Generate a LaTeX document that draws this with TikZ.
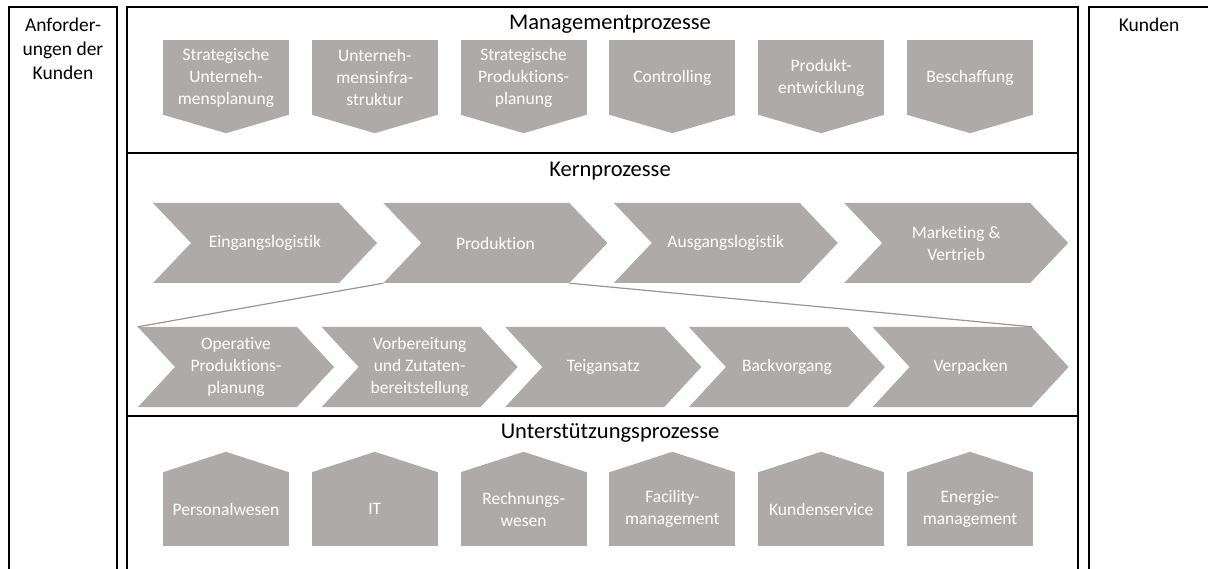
\documentclass[tikz,border=0pt]{standalone}
\usepackage{fontspec}
\setmainfont{Carlito}[Ligatures=NoCommon]
\usetikzlibrary{positioning,calc}
\definecolor{boxgray}{RGB}{174,170,170}
\definecolor{linegray}{RGB}{150,150,150}
\tikzset{
  frameline/.style={draw=black, line width=1.6pt},
  headtext/.style={anchor=base, inner sep=0pt, font=\fontsize{22.5}{27}\selectfont},
  sidetext/.style={inner sep=0pt, align=center, font=\fontsize{19.5}{24}\selectfont},
  mbox/.style={rectangle, fill=boxgray, text=white, minimum width=126pt,
               minimum height=75pt, inner sep=0pt, align=center,
               font=\fontsize{17.5}{22}\selectfont},
  sbox/.style={mbox, minimum height=74pt},
  chev/.style={rectangle, text=white, inner sep=0pt, align=center,
               minimum height=80pt, font=\fontsize{17.5}{22}\selectfont,
               path picture={\fill[boxgray] (path picture bounding box.north west)
                 -- ([xshift=-#1]path picture bounding box.north east)
                 -- (path picture bounding box.east)
                 -- ([xshift=-#1]path picture bounding box.south east)
                 -- (path picture bounding box.south west)
                 -- ([xshift=#1]path picture bounding box.west) -- cycle;}},
  kchev/.style={chev=38pt, minimum width=224pt},
  pchev/.style={chev=37pt, minimum width=196pt},
  zoomline/.style={draw=linegray, line width=1.2pt}
}
\begin{document}
\begin{tikzpicture}[x=1pt, y=-1pt]
  \useasboundingbox (0,0) rectangle (1208,569);

  % frames
  \draw[frameline] (9,580) |- (117,7) -- (117,580);
  \draw[frameline] (127,580) |- (1078,7) -- (1078,580);
  \draw[frameline] (1089,580) |- (1220,7);
  \draw[frameline] (127,153) -- (1078,153);
  \draw[frameline] (127,416) -- (1078,416);

  \node[sidetext, anchor=north] (anf) at (63,18) {Anforder-\\ungen der\\Kunden};
  \node[sidetext, anchor=base] (kund) at (1149,32) {Kunden};

  % Managementprozesse
  \node[headtext] (mhead) at (610,29.5) {Managementprozesse};
  \node[mbox] (strup) at (226,77.5) {Strategische\\Unterneh-\\mensplanung};
  \node[mbox, right=22.4pt of strup] (uinfra) {Unterneh-\\mensinfra-\\struktur};
  \node[mbox, right=22.4pt of uinfra] (strpp) {Strategische\\Produktions-\\planung};
  \node[mbox, right=22.4pt of strpp] (contr) {Controlling};
  \node[mbox, right=22.4pt of contr] (prodev) {Produkt-\\entwicklung};
  \node[mbox, right=22.4pt of prodev] (besch) {Beschaffung};
  \foreach \n in {strup,uinfra,strpp,contr,prodev,besch}
    \fill[boxgray] ([yshift=0.5pt]\n.south west) -- ([yshift=-18pt]\n.south)
      -- ([yshift=0.5pt]\n.south east) -- cycle;

  % Kernprozesse
  \node[headtext] (khead) at (610,177) {Kernprozesse};
  \node[kchev] (einl) at (265,243) {Eingangslogistik};
  \node[kchev, right=6pt of einl] (prod) {Produktion};
  \node[kchev, right=6pt of prod] (ausl) {Ausgangslogistik};
  \node[kchev, right=6pt of ausl] (mvert) {Marketing \&\\Vertrieb};

  \node[pchev] (oppl) at (236,367) {Operative\\Produktions-\\planung};
  \node[pchev, right=-12.75pt of oppl] (vorb) {Vorbereitung\\und Zutaten-\\bereitstellung};
  \node[pchev, right=-12.75pt of vorb] (teig) {Teigansatz};
  \node[pchev, right=-12.75pt of teig] (back) {Backvorgang};
  \node[pchev, right=-12.75pt of back] (verp) {Verpacken};

  \draw[zoomline] (prod.south west) -- (oppl.north west);
  \draw[zoomline] ([xshift=-38pt]prod.south east) -- ([xshift=-37pt]verp.north east);

  % Unterstuetzungsprozesse
  \node[headtext] (uhead) at (610,438) {Unterstützungsprozesse};
  \node[sbox] (pers) at (226,509) {Personalwesen};
  \node[sbox, right=22.4pt of pers] (it) {IT};
  \node[sbox, right=22.4pt of it] (rechn) {Rechnungs-\\wesen};
  \node[sbox, right=22.4pt of rechn] (facil) {Facility-\\management};
  \node[sbox, right=22.4pt of facil] (kserv) {Kundenservice};
  \node[sbox, right=22.4pt of kserv] (energ) {Energie-\\management};
  \foreach \n in {pers,it,rechn,facil,kserv,energ}
    \fill[boxgray] ([yshift=-0.5pt]\n.north west) -- ([yshift=20pt]\n.north)
      -- ([yshift=-0.5pt]\n.north east) -- cycle;
\end{tikzpicture}
\end{document}
